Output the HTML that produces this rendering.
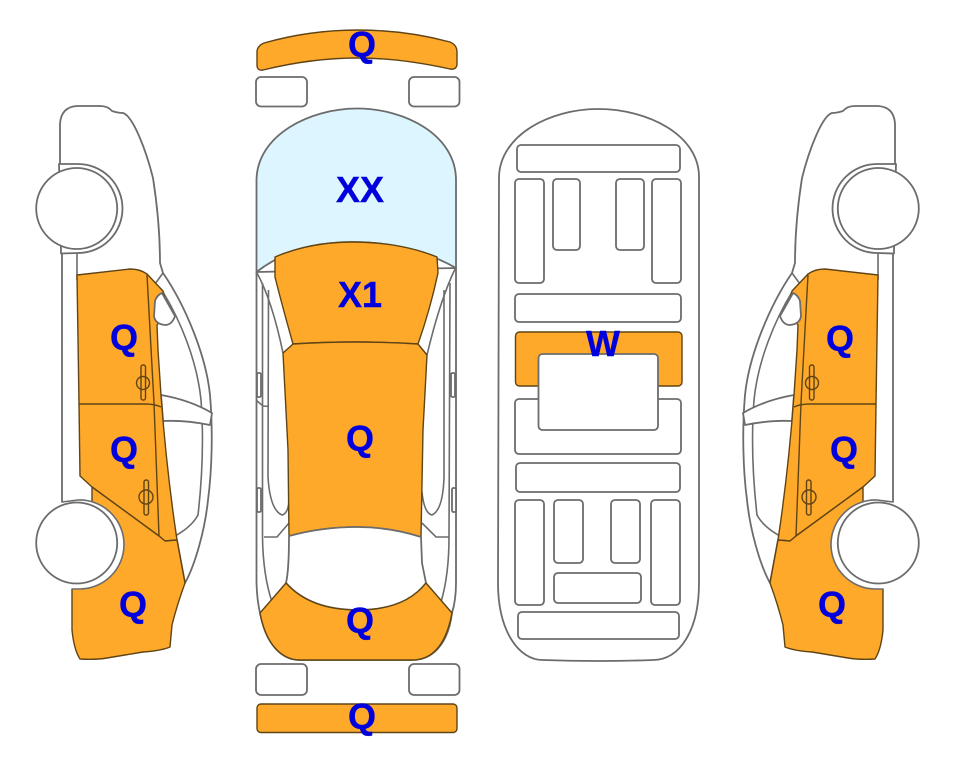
<!DOCTYPE html>
<html>
<head>
<meta charset="utf-8">
<style>
html,body{margin:0;padding:0;background:#fff}
svg{display:block;filter:blur(0.35px)}
.g{fill:#fff;stroke:#6c6c6c;stroke-width:1.8;stroke-linejoin:round}
.n{fill:none;stroke:#6c6c6c;stroke-width:1.6}
.o{fill:#ffa92a;stroke:#5f4415;stroke-width:1.4;stroke-linejoin:round}
.d{fill:none;stroke:#5f4415;stroke-width:1.4}
text{font-family:"Liberation Sans",sans-serif;font-weight:bold;font-size:36px;fill:#0000dc;stroke:#0000dc;stroke-width:0.4;text-anchor:middle}
</style>
</head>
<body>
<svg width="963" height="768" viewBox="0 0 963 768" xmlns="http://www.w3.org/2000/svg">
<defs>
<g id="side">
  <path class="g" d="M60 170 L60 124 Q61 107 77 106 L100 106 Q108 106 112 111 Q118 113 123 113 C133 116 146 150 153 178 C158 210 160 240 160 263 L163 273 C185 305 206 355 210 395 C213 430 212 470 208 500 C205 530 195 565 185 583 L177 540 L92 502 L62 502 L62 253 L60 170 Z"/>
  <path class="n" d="M77 253 L77 280 M163 273 L155 284"/>
  <path class="n" d="M163 292 C180 320 197 360 201 400 C204 440 202 480 198 515 Q190 530 165 541"/>
  <path class="g" d="M161 395 Q190 400 212 413 L210 425 Q185 420 163 421 Z"/>
  <path class="o" d="M77 275 L130 269 Q140 269 147 274 L163 291 L168 310 L157 325 L158 350 L161 395 C165 450 171 500 177 540 L165 541 L159 536 L92 487 L80 476 L79 404 Z"/>
  <path class="o" d="M92 487 L92 503 L124 545 L110 575 L72 589 L72 630 Q74 650 80 659 Q95 660 107 658 L143 652 Q160 651 170 647 L172 625 Q177 605 185 583 L177 540 L165 541 L159 536 Z"/>
  <path class="g" d="M155 301 Q157 295 162 293 L175 316 Q172 325 165 325 Q155 324 154 316 Z"/>
  <path class="d" d="M147 275 L154 403 L159 536 M79 404 L145 404 Q155 404 161 407"/>
  <rect class="d" x="141" y="365" width="4.500" height="35" rx="2"/>
  <circle class="d" cx="143" cy="383" r="6.500"/>
  <rect class="d" x="144" y="480" width="4.500" height="35" rx="2"/>
  <circle class="d" cx="146" cy="497" r="7"/>
  <path class="g" d="M59 164 L78 164 A44.500 44.500 0 0 1 78 253 L61 253.500 L61 250 L59 164 Z" stroke-width="1.400"/>
  <path class="g" d="M62 502 L78 500 A44.500 44.500 0 0 1 124 545 A44.500 44.500 0 0 1 80 589 L72 589 L60 540 Z" style="stroke:none"/>
  <path class="n" d="M62 502 L78 500 A44.500 44.500 0 0 1 124 545 A44.500 44.500 0 0 1 80 589 L72 589"/>
  <circle class="g" cx="76.700" cy="208.500" r="40.500"/>
  <circle class="g" cx="76.700" cy="543" r="40.500"/>
</g>
</defs>

<use href="#side"/>
<use href="#side" transform="translate(955 0) scale(-1 1)"/>

<!-- top view -->
<path class="o" d="M257 52 Q257 46 264 43 Q310 30 358 30 Q405 30 450 42 Q457 45 457 52 L457 65 Q456 70 450 69 Q400 58 357 58 Q312 58 263 70 Q257 71 257 65 Z"/>
<rect class="g" x="256" y="77" width="51" height="29.500" rx="5"/>
<rect class="g" x="409" y="77" width="50.500" height="29.500" rx="5"/>

<path class="g" d="M256.500 272 L256.500 583 Q257 600 260 613 C266 645 282 660 300 660 L412 660 C432 660 448 645 452 613 Q456 600 456 583 L456 268 Z"/>
<path d="M256.500 272 L256.500 180 C257 135 310 108.500 357 108.500 C405 108.500 456 135 456 180 L456 268 Q410 242 352 242 Q295 242 256.500 272 Z" fill="#ddf5ff" stroke="#6c6c6c" stroke-width="1.800"/>

<path class="n" d="M256.500 272 Q272 300 283 353 M455.500 268 Q440 300 427 355"/>
<path class="n" d="M262.500 283 L262.500 537 Q263 575 272 602 M450 283 L449 537 Q449 575 441 602"/>
<path class="n" d="M268.500 290 L268 477 Q270 510 282 515 Q290 513 289 492 M444 290 L444 477 Q443 510 432 515 Q424 513 422 492"/>
<path class="n" d="M256 400 L263 406 L269 406.500 M289 523 L277 537 L264 537 M422 523 L436 537 L449 537"/>
<rect class="g" x="257" y="373" width="4" height="24" rx="1.500"/>
<rect class="g" x="451" y="373" width="4" height="24" rx="1.500"/>
<rect class="g" x="257" y="488" width="4" height="24" rx="1.500"/>
<rect class="g" x="452" y="488" width="4" height="24" rx="1.500"/>

<path class="o" d="M275 257 Q310 242 352 242 Q400 242 437 257 L438 273 Q430 310 418 344 Q355 340 293 344 Q282 305 275 277 Z"/>
<path class="o" d="M283 353 L293 344 Q355 340 418 344 L427 355 L423 430 L422 483 L421 537 Q390 527 357 527 Q322 527 289 536 L288 450 L287 430 Z"/>
<path class="g" d="M289 536 Q322 527 357 527 Q390 527 421 537 L422 563 L426 583 Q405 610 358 610 Q310 610 286 583 Q289 570 289 536 Z"/>
<path class="o" d="M286 583 Q310 610 358 610 Q405 610 426 583 L452 613 C446 645 432 660 412 660 L300 660 C282 660 266 645 260 613 Z"/>
<rect class="g" x="256" y="664" width="51" height="31" rx="5"/>
<rect class="g" x="409" y="664" width="50.500" height="31" rx="5"/>
<rect class="o" x="257" y="704" width="200" height="28.500" rx="4"/>

<!-- underbody -->
<path class="g" d="M499 177 C500 135 550 109 598 109 C648 109 699 135 699 177 L699 583 C699 630 680 660 653 660 Q598 662 543 660 C518 660 498 630 498 583 Z"/>
<rect class="g" x="517" y="145" width="163" height="27" rx="4"/>
<rect class="g" x="515" y="179" width="29" height="104" rx="4"/>
<rect class="g" x="553" y="179" width="27" height="71" rx="4"/>
<rect class="g" x="616" y="179" width="28" height="71" rx="4"/>
<rect class="g" x="652" y="179" width="29" height="104" rx="4"/>
<rect class="g" x="515" y="294" width="166" height="28" rx="4"/>
<rect class="o" x="515.500" y="332" width="166.500" height="54" rx="4"/>
<rect class="g" x="515" y="399" width="166" height="55" rx="4"/>
<rect class="g" x="538.500" y="354" width="119.500" height="76" rx="4"/>
<rect class="g" x="516" y="463" width="164" height="29" rx="4"/>
<rect class="g" x="515" y="500" width="29" height="105" rx="4"/>
<rect class="g" x="554" y="500" width="29" height="63" rx="4"/>
<rect class="g" x="611" y="500" width="29" height="63" rx="4"/>
<rect class="g" x="651" y="500" width="29" height="105" rx="4"/>
<rect class="g" x="554" y="573" width="87" height="30" rx="4"/>
<rect class="g" x="518" y="612" width="161" height="27" rx="4"/>

<!-- labels -->
<text x="362" y="57">Q</text>
<text x="360" y="202">XX</text>
<text x="360" y="307">X1</text>
<text x="360" y="451">Q</text>
<text x="360" y="633">Q</text>
<text x="362" y="729">Q</text>
<text x="603" y="356">W</text>
<text x="124" y="350">Q</text>
<text x="124" y="462">Q</text>
<text x="133" y="617">Q</text>
<text x="840" y="351">Q</text>
<text x="844" y="462">Q</text>
<text x="832" y="617">Q</text>
</svg>
</body>
</html>
